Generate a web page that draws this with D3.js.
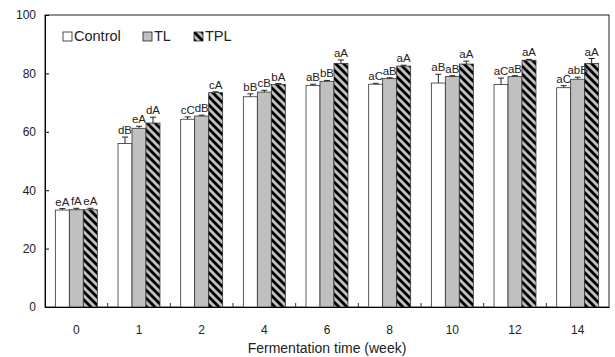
<!DOCTYPE html>
<html>
<head>
<meta charset="utf-8">
<script src="https://cdn.jsdelivr.net/npm/d3@7"></script>
<style>
  body { margin: 0; background: #fff; }
  text { font-family: "Liberation Sans", Arial, sans-serif; fill: #222; }
</style>
</head>
<body>
<svg id="chart" width="615" height="357"></svg>
<script>
const WIDTH = 615, HEIGHT = 357;
const margin = { top: 15, right: 6, bottom: 50, left: 45 };

const weeks = ["0", "1", "2", "4", "6", "8", "10", "12", "14"];
const series = ["Control", "TL", "TPL"];
const controlVals = [33.2, 56.0, 64.3, 72.0, 75.9, 76.3, 76.7, 76.2, 75.1];
const tlVals = [33.3, 61.2, 65.4, 73.6, 77.3, 78.2, 78.9, 78.9, 78.0];
const tplVals = [33.3, 63.0, 73.4, 76.2, 83.4, 82.5, 83.2, 84.5, 83.4];
const controlErr = [0.5, 2.2, 0.8, 1.0, 0.4, 0.3, 3.0, 2.2, 0.7];
const tlErr = [0.5, 0.7, 0.3, 0.6, 0.3, 0.3, 0.3, 0.3, 0.7];
const tplErr = [0.5, 2.0, 0.3, 0.3, 1.2, 0.3, 1.0, 0.3, 1.7];
const controlLbl = ["eA", "dB", "cC", "bB", "aB", "aC", "aB", "aC", "aC"];
const tlLbl = ["fA", "eA", "dB", "cB", "bB", "aB", "aB", "aB", "abB"];
const tplLbl = ["eA", "dA", "cA", "bA", "aA", "aA", "aA", "aA", "aA"];
const yTicks = [0, 20, 40, 60, 80, 100];

const vals = [controlVals, tlVals, tplVals];
const errs = [controlErr, tlErr, tplErr];
const lbls = [controlLbl, tlLbl, tplLbl];

const rows = [];
weeks.forEach((w, i) => {
  series.forEach((s, j) => {
    rows.push({ week: w, series: s, value: vals[j][i], err: errs[j][i], label: lbls[j][i] });
  });
});

const svg = d3.select("#chart");
const x0 = d3.scaleBand().domain(weeks).range([margin.left, WIDTH - margin.right]);
const x1 = d3.scaleBand().domain(series).range([0, x0.bandwidth()]).paddingOuter(0.74);
const y = d3.scaleLinear().domain([0, 100]).range([HEIGHT - margin.bottom, margin.top]);

// hatch pattern
const defs = svg.append("defs");
const pat = defs.append("pattern")
  .attr("id", "hatch")
  .attr("patternUnits", "userSpaceOnUse")
  .attr("width", 8).attr("height", 8);
pat.append("rect").attr("width", 8).attr("height", 8).attr("fill", "#c0c0c0");
pat.append("path")
  .attr("d", "M-2,-2L10,10M-2,6L2,10M6,-2L10,2")
  .attr("stroke", "#000").attr("stroke-width", 2.8);

const fills = { Control: "#ffffff", TL: "#c0c0c0", TPL: "url(#hatch)" };

// frame
svg.append("rect")
  .attr("x", margin.left).attr("y", margin.top)
  .attr("width", WIDTH - margin.left - margin.right)
  .attr("height", HEIGHT - margin.top - margin.bottom)
  .attr("fill", "none").attr("stroke", "#222").attr("stroke-width", 1);

// bars
svg.append("g")
  .selectAll("rect")
  .data(rows)
  .join("rect")
  .attr("x", d => x0(d.week) + x1(d.series))
  .attr("y", d => y(d.value))
  .attr("width", x1.bandwidth())
  .attr("height", d => y(0) - y(d.value))
  .attr("fill", d => fills[d.series])
  .attr("stroke", "#333")
  .attr("stroke-width", 0.8);

// error bars (upper only)
const eb = svg.append("g").attr("stroke", "#222").attr("stroke-width", 1);
eb.selectAll(".v").data(rows).join("line")
  .attr("x1", d => x0(d.week) + x1(d.series) + x1.bandwidth() / 2)
  .attr("x2", d => x0(d.week) + x1(d.series) + x1.bandwidth() / 2)
  .attr("y1", d => y(d.value))
  .attr("y2", d => y(d.value + d.err));
eb.selectAll(".c").data(rows).join("line")
  .attr("x1", d => x0(d.week) + x1(d.series) + x1.bandwidth() / 2 - 3)
  .attr("x2", d => x0(d.week) + x1(d.series) + x1.bandwidth() / 2 + 3)
  .attr("y1", d => y(d.value + d.err))
  .attr("y2", d => y(d.value + d.err));

// letters
svg.append("g")
  .selectAll("text")
  .data(rows)
  .join("text")
  .attr("x", d => x0(d.week) + x1(d.series) + x1.bandwidth() / 2)
  .attr("y", d => y(d.value + d.err) - 3)
  .attr("text-anchor", "middle")
  .style("font-size", "11.5px")
  .text(d => d.label);

// y axis
const yAxis = svg.append("g")
  .attr("transform", `translate(${margin.left},0)`)
  .call(d3.axisLeft(y).tickValues(yTicks).tickSizeInner(-4).tickSizeOuter(0).tickPadding(9));
yAxis.select(".domain").attr("stroke", "#000");
yAxis.selectAll("text").style("font-size", "12px");

// x axis
const xAxis = svg.append("g")
  .attr("transform", `translate(0,${y(0)})`)
  .call(d3.axisBottom(x0).tickSize(0).tickPadding(18));
xAxis.select(".domain").attr("stroke", "#000");
xAxis.selectAll("text").style("font-size", "12px");

// category boundary ticks
svg.append("g")
  .selectAll("line")
  .data(weeks.slice(1))
  .join("line")
  .attr("x1", d => x0(d)).attr("x2", d => x0(d))
  .attr("y1", y(0)).attr("y2", y(0) - 4)
  .attr("stroke", "#333");

svg.append("text")
  .attr("x", (margin.left + WIDTH - margin.right) / 2)
  .attr("y", 353)
  .attr("text-anchor", "middle")
  .style("font-size", "14px")
  .text("Fermentation time (week)");

// legend
const legX = [63, 143, 194];
const leg = svg.append("g")
  .selectAll("g")
  .data(series)
  .join("g")
  .attr("transform", (d, i) => `translate(${legX[i]},32)`);
leg.append("rect")
  .attr("width", 9).attr("height", 9)
  .attr("fill", d => d === "TPL" ? "url(#hatch)" : fills[d])
  .attr("stroke", "#222").attr("stroke-width", 0.8);
leg.append("text")
  .attr("x", 11).attr("y", 9)
  .style("font-size", "14.5px")
  .text(d => d);
</script>
</body>
</html>
